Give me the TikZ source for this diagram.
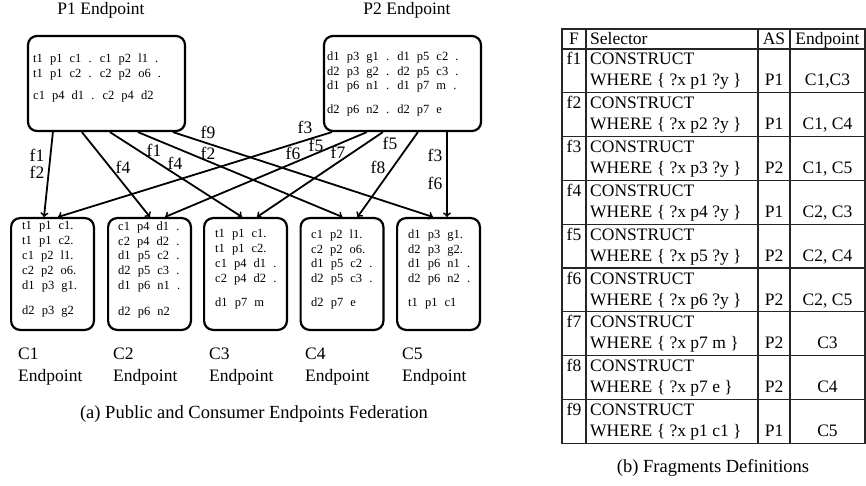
\documentclass[tikz,border=0pt]{standalone}
\usepackage{fontspec}
\setmainfont{Liberation Serif}
\usetikzlibrary{arrows}

\begin{document}
\begin{tikzpicture}[x=1pt,y=-1pt,
        ep/.style={draw,rounded corners=9pt,line width=2.2pt,inner sep=0pt},
        eptext/.style={anchor=north west,align=left,inner sep=0pt,
                font=\fontsize{12.5}{14.8}\selectfont,
                execute at begin node={\spaceskip=7.1pt\relax}},
        lbl/.style={inner sep=0pt,font=\fontsize{17.5}{22}\selectfont},
        figcap/.style={inner sep=0pt,anchor=base,font=\fontsize{18.5}{22}\selectfont},
        feed/.style={->,line width=1.8pt},
        tbl/.style={line width=1.2pt,black!85}]
        \useasboundingbox (0,0) rectangle (866,486);

        % draw the public endpoints
        \node[ep,minimum width=157,minimum height=95] (p1) at (106.5,83.5) {};
        \node[ep,minimum width=157,minimum height=95] (p2) at (402.5,83.5) {};
        \node[lbl,anchor=base] (p1name) at (101,15) {P1 Endpoint};
        \node[lbl,anchor=base] (p2name) at (407,15) {P2 Endpoint};

        \node[eptext] (p1data) at (33,53.8) {t1 p1 c1 . c1 p2 l1 .\\t1 p1 c2 . c2 p2 o6 .\\[7.5pt]c1 p4 d1 . c2 p4 d2};
        \node[eptext] (p2data) at (327,51.5) {d1 p3 g1 . d1 p5 c2 .\\d2 p3 g2 . d2 p5 c3 .\\d1 p6 n1 . d1 p7 m .\\[9pt]d2 p6 n2 . d2 p7 e};

        % draw the consumer endpoints
        \foreach \n/\x/\lx in {1/52.5/18,2/149.5/113,3/245.5/209,4/342/305,5/438.5/402} {
                \node[ep,minimum width=82.8,minimum height=111.8] (c\n) at (\x,274) {};
                \node[lbl,anchor=north west,align=left] (cname\n) at (\lx,347.6) {C\n\\Endpoint};
        }

        \node[eptext] (c1data) at (22,221.5) {t1 p1 c1.\\t1 p1 c2.\\c1 p2 l1.\\c2 p2 o6.\\d1 p3 g1.\\[11pt]d2 p3 g2};
        \node[eptext] (c2data) at (118,221.5) {c1 p4 d1 .\\c2 p4 d2 .\\d1 p5 c2 .\\d2 p5 c3 .\\d1 p6 n1 .\\[11pt]d2 p6 n2};
        \node[eptext] (c3data) at (215,229.5) {t1 p1 c1.\\t1 p1 c2.\\c1 p4 d1 .\\c2 p4 d2 .\\[9pt]d1 p7 m};
        \node[eptext] (c4data) at (311,229.5) {c1 p2 l1.\\c2 p2 o6.\\d1 p5 c2 .\\d2 p5 c3 .\\[9pt]d2 p7 e};
        \node[eptext] (c5data) at (408,229.5) {d1 p3 g1.\\d2 p3 g2.\\d1 p6 n1 .\\d2 p6 n2 .\\[9pt]t1 p1 c1};

        % fragments sent to the consumers
        \foreach \a/\c/\b in {26/c1/34,55/c2/43,83/c3/39,111/c4/43,146/c5/37}
                \draw[feed] ([xshift=\a pt]p1.south west) -- ([xshift=\b pt]\c.north west);
        \foreach \a/\c/\b in {9/c1/48,44/c2/58,60/c3/54,95/c4/58,124/c5/51}
                \draw[feed] ([xshift=\a pt]p2.south west) -- ([xshift=\b pt]\c.north west);

        \foreach \t/\x/\y in {f1/37/155,f2/37/172,f4/123/167,f1/154/150,f4/175/163,
                f9/208/132,f2/208/153,f3/305/127,f6/293/153,f5/316/145,f7/338/152,
                f5/390/143,f8/378/167,f3/435/155,f6/435/183}
                \node[lbl] (\t-\x) at (\x,\y) {\t};

        \node[figcap] (capa) at (254,418) {(a) Public and Consumer Endpoints Federation};

        % draw the fragments table
        \draw[tbl] (562,29) rectangle (865,443.2);
        \foreach \i in {0,...,8}
                \draw[tbl] (562,{49+43.8*\i}) -- (865,{49+43.8*\i});
        \foreach \x in {586,758,790}
                \draw[tbl] (\x,29) -- (\x,443.2);

        \node[lbl,anchor=base] (hf) at (574,45) {F};
        \node[lbl,anchor=base west] (hsel) at (590,45) {Selector};
        \node[lbl,anchor=base] (has) at (774,45) {AS};
        \node[lbl,anchor=base] (hep) at (827.5,45) {Endpoint};

        \foreach \i/\q/\as/\ep in {1/{?x p1 ?y}/P1/{C1,C3},2/{?x p2 ?y}/P1/{C1, C4},
                3/{?x p3 ?y}/P2/{C1, C5},4/{?x p4 ?y}/P1/{C2, C3},5/{?x p5 ?y}/P2/{C2, C4},
                6/{?x p6 ?y}/P2/{C2, C5},7/{?x p7 m}/P2/C3,8/{?x p7 e}/P2/C4,9/{?x p1 c1}/P1/C5} {
                \pgfmathsetmacro\rowy{49+43.8*(\i-1)}
                \node[lbl,anchor=base] (f\i) at (574,\rowy+16) {f\i};
                \node[lbl,anchor=base west] (sel\i) at (590,\rowy+16) {CONSTRUCT};
                \node[lbl,anchor=base west] (where\i) at (590,\rowy+37) {WHERE \{ \q\ \}};
                \node[lbl,anchor=base] (as\i) at (774,\rowy+37) {\as};
                \node[lbl,anchor=base] (ep\i) at (827.5,\rowy+37) {\ep};
        }

        \node[figcap] (capb) at (713,472) {(b) Fragments Definitions};
\end{tikzpicture}
\end{document}
